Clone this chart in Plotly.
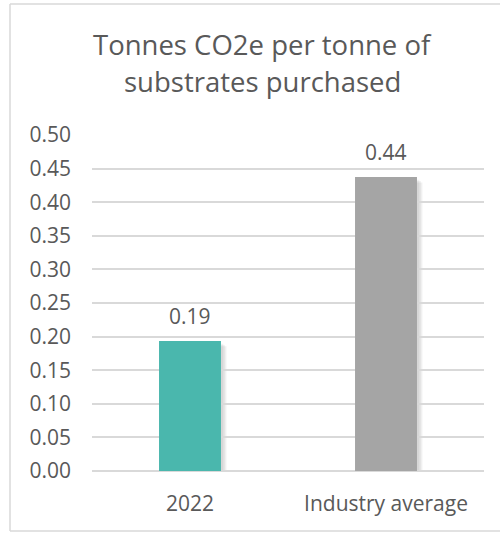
import plotly.graph_objects as go

categories = ["2022", "Industry average"]
values = [0.1935, 0.4375]
labels = ["0.19", "0.44"]
colors = ["#4AB7AD", "#A5A5A5"]
tick_vals = [0, 0.05, 0.10, 0.15, 0.20, 0.25, 0.30, 0.35, 0.40, 0.45, 0.50]
title_lines = ["Tonnes CO2e per tonne of", "substrates purchased"]

W, H = 500, 533
ML, MR, MT, MB = 92, 16, 135, 62
PW, PH = W - ML - MR, H - MT - MB
FONT = "Open Sans"
TXT = "#595959"

pos = list(range(len(categories)))
fig = go.Figure()
bw = 0.316

# soft shadows
shapes = []
for i, v in zip(pos, values):
    for k, a in enumerate([0.05, 0.05, 0.06]):
        off = 0.012 + 0.008 * k
        shapes.append(dict(type="rect", xref="x", yref="y", layer="below",
                           x0=i - bw / 2 + off, x1=i + bw / 2 + off,
                           y0=-0.004, y1=v - 0.004 - 0.002 * k,
                           fillcolor=f"rgba(0,0,0,{a})", line=dict(width=0)))

fig.add_trace(go.Bar(x=pos, y=values, marker=dict(color=colors, line=dict(width=0)),
                     width=bw, hoverinfo="skip"))

for i, v, t in zip(pos, values, labels):
    fig.add_annotation(x=i, y=v, text=t, showarrow=False, yanchor="bottom", yshift=9,
                       font=dict(family=FONT, size=21, color=TXT))

# title lines
for line, ypix in zip(title_lines, [44, 82]):
    fig.add_annotation(xref="paper", yref="paper", x=(262 - ML) / PW, y=(H - MB - ypix) / PH,
                       xanchor="center", yanchor="middle", text=line, showarrow=False,
                       font=dict(family=FONT, size=27.5, color=TXT))

# border (left, top, bottom; right edge lies outside the view)
bx0, bx1 = (10 - ML) / PW, (W - ML) / PW
by0, by1 = (H - 531 - MB) / PH, (H - 4 - MB) / PH
for x0, y0, x1, y1 in [(bx0, by0, bx0, by1), (bx0, by1, bx1, by1), (bx0, by0, bx1, by0)]:
    shapes.append(dict(type="line", xref="paper", yref="paper", layer="above",
                       x0=x0, y0=y0, x1=x1, y1=y1,
                       line=dict(color="#D9D9D9", width=1.5)))

fig.update_layout(
    width=W, height=H,
    margin=dict(l=ML, r=MR, t=MT, b=MB),
    paper_bgcolor="white", plot_bgcolor="white",
    showlegend=False,
    shapes=shapes,
    xaxis=dict(range=[-0.5, 1.5], tickvals=pos, ticktext=categories,
               showgrid=False, showline=False, zeroline=False, ticks="",
               tickfont=dict(family=FONT, size=21, color=TXT), ticklabelstandoff=18),
    yaxis=dict(range=[0, 0.5], tickvals=tick_vals, tickformat=".2f",
               showgrid=True, gridcolor="#D9D9D9", gridwidth=1.5,
               zeroline=True, zerolinecolor="#D9D9D9", zerolinewidth=1.5,
               showline=False, ticks="",
               tickfont=dict(family=FONT, size=21, color=TXT), ticklabelstandoff=20),
)

fig.write_html("out.html", config={"displayModeBar": False},
               post_script="document.body.style.margin='0';")
